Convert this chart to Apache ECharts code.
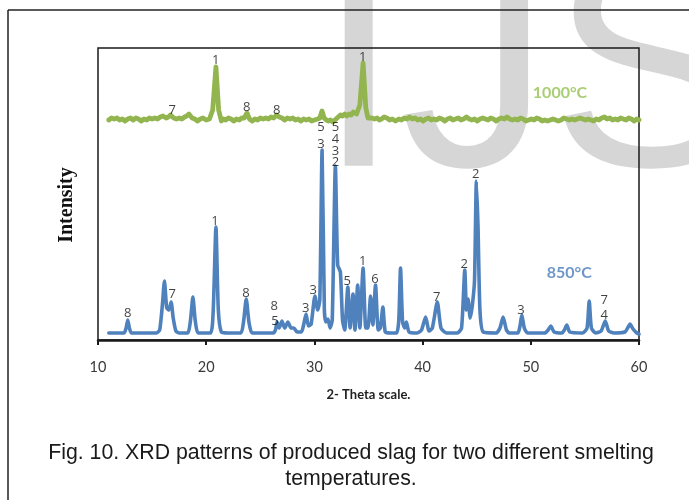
<!DOCTYPE html>
<html>
<head>
<meta charset="utf-8">
<script src="https://cdn.jsdelivr.net/npm/echarts@6/dist/echarts.min.js"></script>
<style>
html,body{margin:0;padding:0;background:#fff;}
#chart{width:689px;height:500px;}
</style>
</head>
<body>
<div id="chart"></div>
<script>
// ---- Data (2-theta, intensity in arbitrary units) ----
var xTicks = [10, 20, 30, 40, 50, 60];

var pattern850 = [
  [11.0, 7], [12.4, 7], [12.6, 12], [12.75, 20], [12.9, 12], [13.1, 7],
  [15.4, 7], [15.7, 10], [15.95, 35], [16.14, 59], [16.35, 32], [16.55, 30], [16.76, 38], [16.95, 22], [17.2, 9], [17.5, 7],
  [18.3, 7], [18.55, 20], [18.77, 43], [18.98, 20], [19.25, 7],
  [20.4, 7], [20.65, 30], [20.9, 113], [21.12, 30], [21.4, 8], [22.0, 7],
  [23.2, 7], [23.45, 18], [23.7, 41], [23.95, 18], [24.25, 7],
  [26.2, 7], [26.4, 10], [26.55, 18], [26.75, 12], [27.0, 19], [27.25, 12], [27.55, 18], [27.85, 12], [28.1, 12], [28.4, 8],
  [28.8, 8], [29.0, 15], [29.23, 26], [29.45, 14], [29.7, 16], [30.05, 44], [30.3, 30], [30.5, 40], [30.71, 190], [30.92, 30],
  [31.05, 18], [31.25, 21], [31.45, 12], [31.65, 20], [31.94, 174], [32.15, 75], [32.4, 68], [32.6, 20], [32.8, 10],
  [33.09, 53], [33.3, 12], [33.57, 46], [33.75, 10], [34.0, 55], [34.2, 12], [34.5, 72], [34.75, 12], [34.95, 12],
  [35.19, 44], [35.4, 15], [35.65, 55], [35.9, 10], [36.1, 12], [36.33, 33], [36.55, 8], [37.0, 7],
  [37.6, 7], [37.8, 20], [37.96, 72], [38.15, 18], [38.35, 12], [38.5, 18], [38.75, 8], [39.5, 7],
  [39.9, 10], [40.28, 23], [40.6, 9], [40.9, 12], [41.36, 38], [41.7, 12], [42.2, 7],
  [43.2, 7], [43.6, 12], [43.9, 70], [44.05, 30], [44.2, 41], [44.4, 22], [44.6, 35], [44.8, 60], [44.97, 159], [45.12, 114], [45.3, 30], [45.6, 8],
  [46.8, 7], [47.15, 12], [47.44, 23], [47.75, 10], [48.0, 7],
  [48.8, 7], [49.0, 14], [49.17, 25], [49.4, 12], [49.7, 7],
  [51.3, 7], [51.6, 10], [51.85, 14], [52.15, 8], [52.9, 7], [53.1, 10], [53.33, 15], [53.6, 8],
  [54.8, 7], [55.2, 12], [55.4, 39], [55.6, 12], [56.0, 7], [56.5, 9], [56.88, 19], [57.2, 9], [57.7, 7],
  [58.7, 8], [59.0, 13], [59.17, 16], [59.45, 11], [59.8, 7], [60.0, 6]
];

var pattern1000 = [
  [11.0, 220], [11.25, 222], [11.5, 221], [11.75, 222], [12.0, 220], [12.25, 221], [12.5, 219], [12.75, 221], [13.0, 222],
  [13.25, 220], [13.5, 222], [13.75, 221], [14.0, 219], [14.25, 221], [14.5, 220], [14.75, 222], [15.0, 221], [15.25, 222],
  [15.5, 221], [15.75, 223], [16.0, 224], [16.3, 222], [16.5, 223], [16.7, 225], [17.0, 222], [17.25, 221], [17.5, 222],
  [17.75, 221], [18.0, 223], [18.2, 224], [18.4, 226], [18.7, 222], [18.95, 221], [19.2, 219], [19.45, 221], [19.7, 222],
  [20.0, 220], [20.3, 221], [20.6, 230], [20.9, 273], [21.15, 230], [21.4, 219], [21.6, 221], [21.8, 220], [22.05, 222],
  [22.3, 221], [22.55, 219], [22.8, 221], [23.05, 220], [23.3, 222], [23.5, 222], [23.77, 227], [24.0, 221], [24.25, 219],
  [24.5, 221], [24.75, 220], [25.0, 222], [25.25, 221], [25.5, 222], [25.75, 221], [26.0, 223], [26.25, 222], [26.5, 225],
  [26.75, 223], [27.0, 222], [27.25, 220], [27.5, 222], [27.75, 221], [28.0, 222], [28.25, 220], [28.5, 221], [28.75, 219],
  [29.0, 221], [29.25, 220], [29.5, 221], [29.75, 219], [30.0, 220], [30.3, 221], [30.5, 222], [30.7, 229], [30.9, 222],
  [31.1, 220], [31.3, 219], [31.5, 220], [31.7, 218], [32.0, 221], [32.2, 223], [32.4, 225], [32.6, 224], [32.8, 226],
  [33.0, 224], [33.2, 226], [33.4, 225], [33.6, 228], [33.9, 226], [34.2, 235], [34.5, 277], [34.75, 232], [34.95, 222],
  [35.1, 224], [35.3, 222], [35.55, 221], [35.8, 222], [36.0, 220], [36.2, 221], [36.45, 223], [36.7, 222], [36.95, 220],
  [37.2, 221], [37.5, 219], [37.8, 221], [38.05, 220], [38.3, 222], [38.55, 221], [38.8, 223], [39.05, 221], [39.3, 222],
  [39.55, 220], [39.8, 221], [40.05, 219], [40.3, 221], [40.55, 222], [40.8, 220], [41.05, 221], [41.3, 220], [41.55, 222],
  [41.8, 221], [42.05, 219], [42.3, 221], [42.55, 222], [42.8, 220], [43.05, 221], [43.3, 222], [43.55, 220], [43.8, 221],
  [44.05, 223], [44.3, 221], [44.55, 220], [44.8, 221], [45.05, 219], [45.3, 221], [45.55, 222], [45.8, 221], [46.05, 220],
  [46.3, 222], [46.55, 221], [46.8, 219], [47.05, 221], [47.3, 222], [47.55, 221], [47.8, 223], [48.05, 221], [48.3, 220],
  [48.55, 221], [48.8, 220], [49.05, 222], [49.3, 221], [49.55, 219], [49.8, 220], [50.05, 221], [50.3, 220], [50.55, 222],
  [50.8, 221], [51.05, 219], [51.3, 220], [51.55, 219], [51.8, 220], [52.05, 221], [52.3, 220], [52.55, 219], [52.8, 220],
  [53.05, 222], [53.3, 221], [53.55, 220], [53.8, 221], [54.05, 220], [54.3, 221], [54.55, 222], [54.8, 221], [55.05, 220],
  [55.3, 221], [55.55, 220], [55.8, 219], [56.05, 221], [56.3, 220], [56.55, 222], [56.8, 223], [57.05, 221], [57.3, 222],
  [57.55, 220], [57.8, 221], [58.05, 220], [58.3, 222], [58.55, 221], [58.8, 220], [59.05, 222], [59.3, 221], [59.55, 219],
  [59.8, 221], [60.0, 220]
];

// Phase labels: [2-theta, intensity, text]
var labels1000 = [
  [16.87, 230, '7'], [20.88, 280, '1'], [23.74, 233, '8'], [26.52, 230, '8'], [34.46, 283, '1']
];
var labels850 = [
  [12.74, 27, '8'], [16.87, 46, '7'], [20.81, 119, '1'], [23.68, 47, '8'],
  [26.29, 34, '8'], [26.36, 19, '5'], [29.2, 32, '3'], [29.9, 50, '3'],
  [30.61, 213, '5'], [30.61, 196, '3'],
  [31.95, 213, '5'], [31.95, 201, '4'], [31.95, 189, '3'], [31.95, 178, '2'],
  [33.04, 59, '5'], [34.46, 79, '1'], [35.6, 61, '6'], [41.3, 43, '7'],
  [43.85, 76, '2'], [44.9, 166, '2'], [49.09, 30, '3'], [56.79, 40, '7'], [56.79, 25, '4']
];
var seriesTags = [
  [52.7, 247, '1000°C'], [53.56, 67, '850°C']
];

var chart = echarts.init(document.getElementById('chart'), null, {renderer: 'canvas'});

function labelSeries(data, color, size, weight) {
  return {
    type: 'scatter',
    data: data.map(function (d) { return {value: [d[0], d[1]], name: d[2]}; }),
    symbolSize: 0,
    silent: true,
    z: 5,
    label: {
      show: true,
      position: 'inside',
      formatter: function (p) { return p.name; },
      color: color,
      fontSize: size,
      fontWeight: weight,
      fontFamily: '"Open Sans", Lato, sans-serif'
    }
  };
}

var option = {
  backgroundColor: '#ffffff',
  animation: false,
  grid: {
    left: 98, right: 50, top: 48, bottom: 160,
    show: true, borderColor: '#1a1a1a', borderWidth: 1.5, backgroundColor: 'transparent', z: 1
  },
  xAxis: {
    type: 'value', min: 10, max: 60, interval: 10,
    name: '2- Theta scale.', nameLocation: 'middle', nameGap: 48,
    nameTextStyle: {fontFamily: 'Lato, "Open Sans", sans-serif', fontWeight: 'bold', fontSize: 13, color: '#1f1f1f'},
    axisLine: {show: true, lineStyle: {color: '#1a1a1a', width: 2.5}},
    axisTick: {show: true, inside: false, length: 5, lineStyle: {color: '#1a1a1a', width: 2}},
    axisLabel: {margin: 20, fontFamily: 'Lato, "Open Sans", sans-serif', fontSize: 14.5, color: '#3a3a3a',
      formatter: function (v) { return xTicks.indexOf(v) >= 0 ? String(v) : ''; }},
    splitLine: {show: false}
  },
  yAxis: {
    type: 'value', min: 0, max: 292,
    axisLine: {show: false}, axisTick: {show: false}, axisLabel: {show: false}, splitLine: {show: false}
  },
  graphic: [
    {type: 'text', z: -10, silent: true,
      style: {text: 'IJS', x: 317, y: 83, textVerticalAlign: 'middle', textAlign: 'left',
        font: '300px "Liberation Sans", Arial, sans-serif', fill: '#d6d6d6'}},
    {type: 'line', z: 10, silent: true, shape: {x1: 8, y1: 10, x2: 689, y2: 10}, style: {stroke: '#222', lineWidth: 1.5}},
    {type: 'line', z: 10, silent: true, shape: {x1: 8, y1: 10, x2: 8, y2: 500}, style: {stroke: '#222', lineWidth: 1.5}},
    {type: 'text', z: 10, silent: true, rotation: Math.PI / 2, x: 67, y: 205,
      style: {text: 'Intensity', x: 0, y: 0, textAlign: 'center', textVerticalAlign: 'middle',
        font: 'bold 20px "Liberation Serif", "Times New Roman", serif', fill: '#111'}},
    {type: 'text', z: 10, silent: true,
      style: {text: 'Fig. 10. XRD patterns of produced slag for two different smelting', x: 351, y: 453,
        textAlign: 'center', textVerticalAlign: 'middle', font: '21.3px "Liberation Sans", Arial, sans-serif', fill: '#1a1a1a'}},
    {type: 'text', z: 10, silent: true,
      style: {text: 'temperatures.', x: 351, y: 479,
        textAlign: 'center', textVerticalAlign: 'middle', font: '21.3px "Liberation Sans", Arial, sans-serif', fill: '#1a1a1a'}}
  ],
  series: [
    {
      name: '1000°C', type: 'line', data: pattern1000, showSymbol: false, symbol: 'none',
      smooth: false, z: 3,
      lineStyle: {color: '#93b550', width: 4.8, cap: 'round', join: 'round'}
    },
    {
      name: '850°C', type: 'line', data: pattern850, showSymbol: false, symbol: 'none',
      smooth: 0.2, z: 3,
      lineStyle: {color: '#4f81bd', width: 3.6, cap: 'round', join: 'round'}
    },
    labelSeries(labels1000, '#111', 13, 'normal'),
    labelSeries(labels850, '#111', 13, 'normal'),
    {
      type: 'scatter', symbolSize: 0, silent: true, z: 5,
      data: [{value: [seriesTags[0][0], seriesTags[0][1]], name: seriesTags[0][2], label: {color: '#92c050'}},
             {value: [seriesTags[1][0], seriesTags[1][1]], name: seriesTags[1][2], label: {color: '#4a7dbb'}}],
      label: {show: true, position: 'inside', formatter: function (p) { return p.name; },
        fontSize: 16, fontWeight: 'bold', fontFamily: 'Lato, "Open Sans", sans-serif'}
    }
  ]
};
chart.setOption(option);
</script>
</body>
</html>
